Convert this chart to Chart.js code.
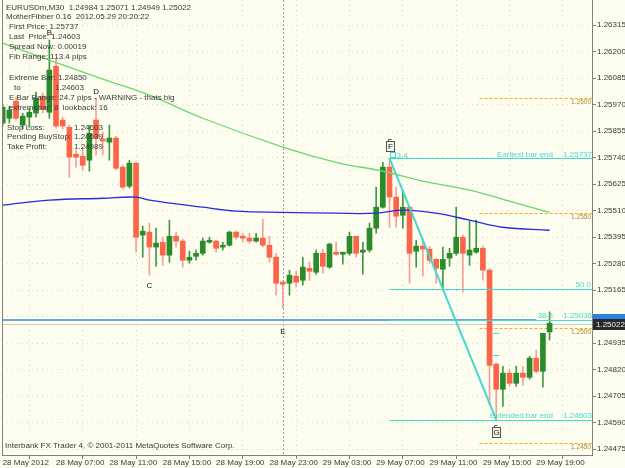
<!DOCTYPE html>
<html>
<head>
<meta charset="utf-8">
<script src="https://cdn.jsdelivr.net/npm/chart.js@4.4.1/dist/chart.umd.min.js"></script>
<style>
  html, body { margin: 0; padding: 0; background: #fdfef0; }
  #wrap { width: 625px; height: 468px; }
</style>
</head>
<body>
<div id="wrap"><canvas id="c" width="625" height="468"></canvas></div>
<script>
// EURUSDm M30 candles
const opens  = [1.25890,1.25911,1.25985,1.25881,1.25916,1.25933,1.26007,1.25937,1.26137,1.25903,
                1.25872,1.25755,1.25746,1.25729,1.25903,1.25820,1.25807,1.25825,1.25699,1.25616,
                1.25716,1.25404,1.25417,1.25352,1.25373,1.25317,1.25399,1.25378,1.25295,1.25312,
                1.25325,1.25373,1.25378,1.25352,1.25360,1.25417,1.25399,1.25391,1.25378,1.25391,
                1.25360,1.25308,1.25200,1.25195,1.25226,1.25208,1.25260,1.25243,1.25325,1.25265,
                1.25330,1.25321,1.25325,1.25399,1.25330,1.25339,1.25434,1.25525,1.25699,1.25569,
                1.25490,1.25525,1.25334,1.25356,1.25343,1.25299,1.25256,1.25304,1.25325,1.25395,
                1.25317,1.25330,1.25347,1.25252,1.24844,1.24735,1.24805,1.24761,1.24805,1.24787,
                1.24870,1.24813,1.24984];
const highs  = [1.25972,1.25963,1.26003,1.25933,1.25955,1.26024,1.26020,1.26250,1.26172,1.25916,
                1.25881,1.25773,1.25781,1.25881,1.25998,1.25851,1.25881,1.25833,1.25707,1.25729,
                1.25720,1.25443,1.25456,1.25434,1.25395,1.25469,1.25417,1.25386,1.25334,1.25339,
                1.25391,1.25395,1.25382,1.25373,1.25421,1.25421,1.25412,1.25412,1.25412,1.25473,
                1.25399,1.25325,1.25204,1.25252,1.25247,1.25308,1.25286,1.25339,1.25343,1.25369,
                1.25373,1.25330,1.25417,1.25399,1.25373,1.25456,1.25612,1.25720,1.25737,1.25612,
                1.25599,1.25529,1.25382,1.25386,1.25356,1.25304,1.25352,1.25347,1.25525,1.25404,
                1.25464,1.25469,1.25356,1.25260,1.24850,1.24835,1.24822,1.24835,1.24835,1.24878,
                1.24905,1.24978,1.25071];
const lows   = [1.25877,1.25890,1.25903,1.25864,1.25872,1.25916,1.25933,1.25911,1.25868,1.25864,
                1.25655,1.25699,1.25686,1.25681,1.25751,1.25751,1.25729,1.25686,1.25603,1.25608,
                1.25330,1.25308,1.25230,1.25269,1.25273,1.25286,1.25352,1.25265,1.25282,1.25295,
                1.25317,1.25369,1.25330,1.25339,1.25356,1.25386,1.25373,1.25369,1.25373,1.25352,
                1.25286,1.25143,1.25087,1.25143,1.25178,1.25187,1.25208,1.25234,1.25239,1.25260,
                1.25317,1.25278,1.25317,1.25308,1.25234,1.25330,1.25412,1.25521,1.25438,1.25438,
                1.25434,1.25195,1.25265,1.25226,1.25282,1.25195,1.25165,1.25269,1.25317,1.25156,
                1.25273,1.25325,1.25208,1.24666,1.24603,1.24661,1.24748,1.24748,1.24753,1.24779,
                1.24805,1.24744,1.24949];
const closes = [1.25959,1.25946,1.25911,1.25920,1.25937,1.25998,1.25950,1.26120,1.25877,1.25877,
                1.25742,1.25742,1.25707,1.25846,1.25825,1.25812,1.25825,1.25694,1.25612,1.25716,
                1.25395,1.25421,1.25352,1.25369,1.25317,1.25399,1.25378,1.25295,1.25308,1.25325,
                1.25378,1.25382,1.25347,1.25360,1.25417,1.25395,1.25391,1.25378,1.25391,1.25360,
                1.25308,1.25195,1.25191,1.25230,1.25200,1.25265,1.25247,1.25325,1.25269,1.25365,
                1.25321,1.25330,1.25399,1.25325,1.25339,1.25434,1.25525,1.25699,1.25569,1.25486,
                1.25525,1.25325,1.25356,1.25343,1.25295,1.25260,1.25299,1.25325,1.25395,1.25325,
                1.25339,1.25347,1.25252,1.24839,1.24735,1.24805,1.24761,1.24805,1.24787,1.24870,
                1.24813,1.24978,1.25022];

// moving averages, sampled at a few bars
const maSlowBars = [0, 7, 15, 22, 30, 42, 50, 57, 63, 70, 76, 82];
const maSlow     = [1.26237,1.26163,1.26081,1.26011,1.25911,1.25786,1.25720,1.25681,1.25638,1.25599,1.25551,1.25503];
const maFastBars = [0, 7, 15, 20, 22, 30, 35, 42, 50, 56, 60, 65, 70, 75, 82];
const maFast     = [1.25534,1.25556,1.25564,1.25569,1.25556,1.25525,1.25508,1.25503,1.25499,1.25499,1.25512,1.25499,1.25469,1.25438,1.25425];

// axes
const xTickBars = [0, 8, 16, 24, 32, 40, 48, 56, 64, 72, 80];
const xLabels = ['28 May 2012','28 May 07:00','28 May 11:00','28 May 15:00','28 May 19:00','28 May 23:00',
                 '29 May 03:00','29 May 07:00','29 May 11:00','29 May 15:00','29 May 19:00'];
const yTicks = [1.24475,1.24590,1.24705,1.24820,1.24935,1.25050,1.25165,1.25280,1.25395,
                1.25510,1.25625,1.25740,1.25855,1.25970,1.26085,1.26200,1.26315];

// objects on the chart
const fibStartBar = 58, fibEndBar = 74;
const fibLevels = [1.25737, 1.25170, 1.25036, 1.24603];
const fibNames  = ['Earliest bar end', '50.0', '38.2', 'Extended bar end'];
const fibPrices = ['1.25737', '', '1.25036', '1.24603'];
const roundStartBar = 71.5;
const roundLevels = [1.2600, 1.2550, 1.2500, 1.2450];
const bidPrice = 1.25022, markPrice = 1.25036, markEndBar = 80;
const separatorBar = 42;
const letters = [['B', 7, 1.26280], ['D', 14, 1.26024], ['C', 22, 1.25182], ['E', 42, 1.24984]];
const boxes = [['F', 58, 1.25790], ['G', 74, 1.24549]];

const info = [
  ['EURUSDm,M30  1.24984 1.25071 1.24949 1.25022'],
  ['MotherFibber 0.16  2012.05.29 20:20:22'],
  ['First Price: 1.25737'],
  ['Last  Price: 1.24603'],
  ['Spread Now: 0.00019'],
  ['Fib Range: 113.4 pips'],
  ['Extreme Bar: 1.24850'],
  ['to', '1.24603'],
  ['E Bar Range: 24.7 pips - WARNING - thats big'],
  ['extremebar: 8  lookback: 16'],
  ['Stop Loss:', '1.24603'],
  ['Pending BuyStop:', '1.24639'],
  ['Take Profit:', '1.24989'],
];

const C = {
  bg: '#fdfef0',
  bull: '#2b8b2b',
  bear: '#fb6548',
  bullWick: '#3f983f',
  bearWick: '#f7a090',
  maFast: '#2a2ae0',
  maSlow: '#6ad86a',
  fib: '#45d8d0',
  round: '#ffa31a',
  roundText: '#a8892e',
  text: '#383838',
  axis: '#808080',
  grid: 'rgba(160,160,120,0.35)',
  sep: '#9a9a9a',
};
const FONT = "'Liberation Sans', Arial, sans-serif";

const idx = closes.map((_, i) => i);
const isBull = i => closes[i] >= opens[i];

function hline(ctx, x0, x1, y, color, w, dash) {
  ctx.save();
  ctx.strokeStyle = color;
  ctx.lineWidth = w;
  ctx.setLineDash(dash || []);
  const yy = w % 2 ? Math.round(y) + 0.5 : Math.round(y);
  ctx.beginPath();
  ctx.moveTo(x0, yy);
  ctx.lineTo(x1, yy);
  ctx.stroke();
  ctx.restore();
}

function txt(ctx, s, x, y, color, size, align, bold) {
  ctx.fillStyle = color;
  ctx.font = (bold ? 'bold ' : '') + size + 'px ' + FONT;
  ctx.textAlign = align || 'left';
  ctx.textBaseline = 'middle';
  ctx.fillText(s, x, y);
}

const overlay = {
  id: 'overlay',
  beforeDraw(chart) {
    const ctx = chart.ctx;
    ctx.save();
    ctx.fillStyle = C.bg;
    ctx.fillRect(0, 0, chart.width, chart.height);
    ctx.restore();
  },
  beforeDatasetsDraw(chart) {
    const { ctx, chartArea: a, scales: { x, y } } = chart;
    ctx.save();
    ctx.beginPath();
    ctx.rect(a.left, a.top, a.right - a.left, a.bottom - a.top);
    ctx.clip();
    // period separator
    const sx = Math.round(x.getPixelForValue(separatorBar)) + 0.5;
    ctx.strokeStyle = C.sep;
    ctx.lineWidth = 1;
    ctx.setLineDash([2, 2]);
    ctx.beginPath();
    ctx.moveTo(sx, a.top);
    ctx.lineTo(sx, a.bottom);
    ctx.stroke();
    ctx.setLineDash([]);
    // bid line + marked level
    hline(ctx, a.left, a.right, y.getPixelForValue(bidPrice) + 1, '#cfcdb8', 1);
    hline(ctx, a.left, x.getPixelForValue(markEndBar), y.getPixelForValue(markPrice), '#66aadd', 2);
    // round levels
    roundLevels.forEach(p => {
      hline(ctx, x.getPixelForValue(roundStartBar), a.right, y.getPixelForValue(p), C.round, 1, [3, 2]);
    });
    ctx.restore();
  },
  afterDatasetsDraw(chart) {
    const { ctx, chartArea: a, scales: { x, y } } = chart;
    ctx.save();
    // fib levels
    const fx = x.getPixelForValue(fibStartBar);
    fibLevels.forEach((p, k) => {
      const py = y.getPixelForValue(p);
      hline(ctx, fx, a.right, py, C.fib, 1);
      if (fibNames[k] === '50.0') {
        txt(ctx, fibNames[k], a.right - 1, py - 4, C.fib, 8, 'right');
      } else {
        txt(ctx, fibNames[k], a.right - 39, py - 4, C.fib, 8, 'right');
        txt(ctx, fibPrices[k], a.right, py - 4, C.fib, 8, 'right');
      }
    });
    // fib base line
    ctx.strokeStyle = C.fib;
    ctx.lineWidth = 2;
    ctx.beginPath();
    ctx.moveTo(fx, y.getPixelForValue(fibLevels[0]));
    ctx.lineTo(x.getPixelForValue(fibEndBar), y.getPixelForValue(fibLevels[3]));
    ctx.stroke();
    // little marker + label near the start
    ctx.lineWidth = 1;
    ctx.strokeRect(Math.round(fx) + 0.5, Math.round(y.getPixelForValue(fibLevels[0])) - 5.5, 5, 5);
    txt(ctx, '3.4', fx + 7, y.getPixelForValue(fibLevels[0]) - 3, C.fib, 8);
    // small ticks at the extreme bar
    const ex = x.getPixelForValue(fibEndBar);
    [1.24978, 1.24883].forEach(p => hline(ctx, ex - 3, ex + 3, y.getPixelForValue(p), C.fib, 1));
    // round level labels
    roundLevels.forEach(p => {
      txt(ctx, p.toFixed(4), a.right - 1, y.getPixelForValue(p) + 4, C.roundText, 6.5, 'right');
    });
    ctx.restore();
  },
  afterDraw(chart) {
    const { ctx, chartArea: a, scales: { x, y } } = chart;
    ctx.save();
    // left frame
    ctx.strokeStyle = C.axis;
    ctx.lineWidth = 1;
    ctx.beginPath();
    ctx.moveTo(a.left + 0.5, 0);
    ctx.lineTo(a.left + 0.5, a.bottom);
    ctx.stroke();
    // letters
    letters.forEach(([s, b, p]) => txt(ctx, s, x.getPixelForValue(b), y.getPixelForValue(p), '#111', 8, 'center'));
    boxes.forEach(([s, b, p]) => {
      const bx = Math.round(x.getPixelForValue(b)), by = Math.round(y.getPixelForValue(p));
      ctx.fillStyle = '#f4f4ea';
      ctx.fillRect(bx - 4, by - 5, 9, 11);
      ctx.strokeStyle = '#555';
      ctx.strokeRect(bx - 3.5, by - 4.5, 8, 10);
      ctx.beginPath();
      ctx.moveTo(bx - 1.5, by - 4.5);
      ctx.lineTo(bx - 1.5, by - 6.5);
      ctx.lineTo(bx + 1.5, by - 6.5);
      ctx.stroke();
      txt(ctx, s, bx + 0.5, by + 0.5, '#222', 8, 'center');
    });
    // info block
    const rows = [7.5, 17, 27, 37, 47, 57, 77.5, 87.5, 97.5, 107.5, 127.5, 137, 147];
    info.forEach((r, k) => {
      let lx = k < 2 ? 6 : (k >= 10 ? 7 : 9);
      if (k === 7) lx = 14;
      txt(ctx, r[0], lx, rows[k], C.text, 8);
      if (r[1]) txt(ctx, r[1], k === 7 ? 55 : 74, rows[k], C.text, 8);
    });
    txt(ctx, 'Interbank FX Trader 4, \u00a9 2001-2011 MetaQuotes Software Corp.', 5, 446, C.text, 8);
    // price boxes on the axis
    const my = Math.round(y.getPixelForValue(markPrice));
    ctx.fillStyle = '#2b82e0';
    ctx.fillRect(a.right + 1, my - 6, 33, 8);
    const by = Math.round(y.getPixelForValue(bidPrice));
    ctx.fillStyle = '#2a2a2a';
    ctx.fillRect(a.right + 1, by - 4, 33, 11);
    txt(ctx, bidPrice.toFixed(5), a.right + 4, by + 1.5, '#eeeeee', 8);
    ctx.restore();
  },
};

new Chart(document.getElementById('c'), {
  type: 'bar',
  data: {
    datasets: [
      {
        type: 'line',
        data: maFastBars.map((b, k) => ({ x: b, y: maFast[k] })),
        borderColor: C.maFast,
        borderWidth: 1.3,
        pointRadius: 0,
        tension: 0.4,
        order: 0,
      },
      {
        type: 'line',
        data: maSlowBars.map((b, k) => ({ x: b, y: maSlow[k] })),
        borderColor: C.maSlow,
        borderWidth: 1.3,
        pointRadius: 0,
        tension: 0.4,
        order: 0,
      },
      {
        data: idx.map(i => ({ x: i, y: [opens[i], closes[i]] })),
        backgroundColor: idx.map(i => (isBull(i) ? C.bull : C.bear)),
        barThickness: 5,
        minBarLength: 1,
        borderWidth: 0,
        grouped: false,
        order: 1,
      },
      {
        data: idx.map(i => ({ x: i, y: [lows[i], highs[i]] })),
        backgroundColor: idx.map(i => (isBull(i) ? C.bullWick : C.bearWick)),
        barThickness: 1,
        borderWidth: 0,
        grouped: false,
        order: 2,
      },
    ],
  },
  options: {
    responsive: false,
    animation: false,
    events: [],
    layout: { padding: { left: 2, top: 0, right: 0, bottom: 0 } },
    plugins: { legend: { display: false }, tooltip: { enabled: false } },
    scales: {
      x: {
        type: 'linear',
        min: -0.1,
        max: 88.36,
        offset: false,
        bounds: 'data',
        afterBuildTicks: s => { s.ticks = xTickBars.map(v => ({ value: v })); },
        afterFit: s => { s.height = 13; s.paddingLeft = 0; s.paddingRight = 0; },
        ticks: {
          autoSkip: false,
          maxRotation: 0,
          align: 'start',
          padding: -1,
          color: C.text,
          font: { size: 8, family: FONT },
          callback: (v, i) => xLabels[i],
        },
        grid: { color: C.grid, tickColor: C.axis, tickLength: 4, tickBorderDash: [] },
        border: { color: C.axis, dash: [1, 4] },
      },
      y: {
        type: 'linear',
        position: 'right',
        min: 1.24450,
        max: 1.26424,
        bounds: 'data',
        afterBuildTicks: s => { s.ticks = yTicks.map(v => ({ value: v })); },
        afterFit: s => { s.width = 33; s.paddingTop = 0; s.paddingBottom = 0; },
        ticks: {
          padding: 1,
          color: C.text,
          font: { size: 8, family: FONT },
          callback: v => v.toFixed(5),
        },
        grid: { color: C.grid, tickColor: C.axis, tickLength: 4, tickBorderDash: [] },
        border: { color: C.axis, dash: [1, 4] },
      },
    },
  },
  plugins: [overlay],
});
</script>
</body>
</html>
